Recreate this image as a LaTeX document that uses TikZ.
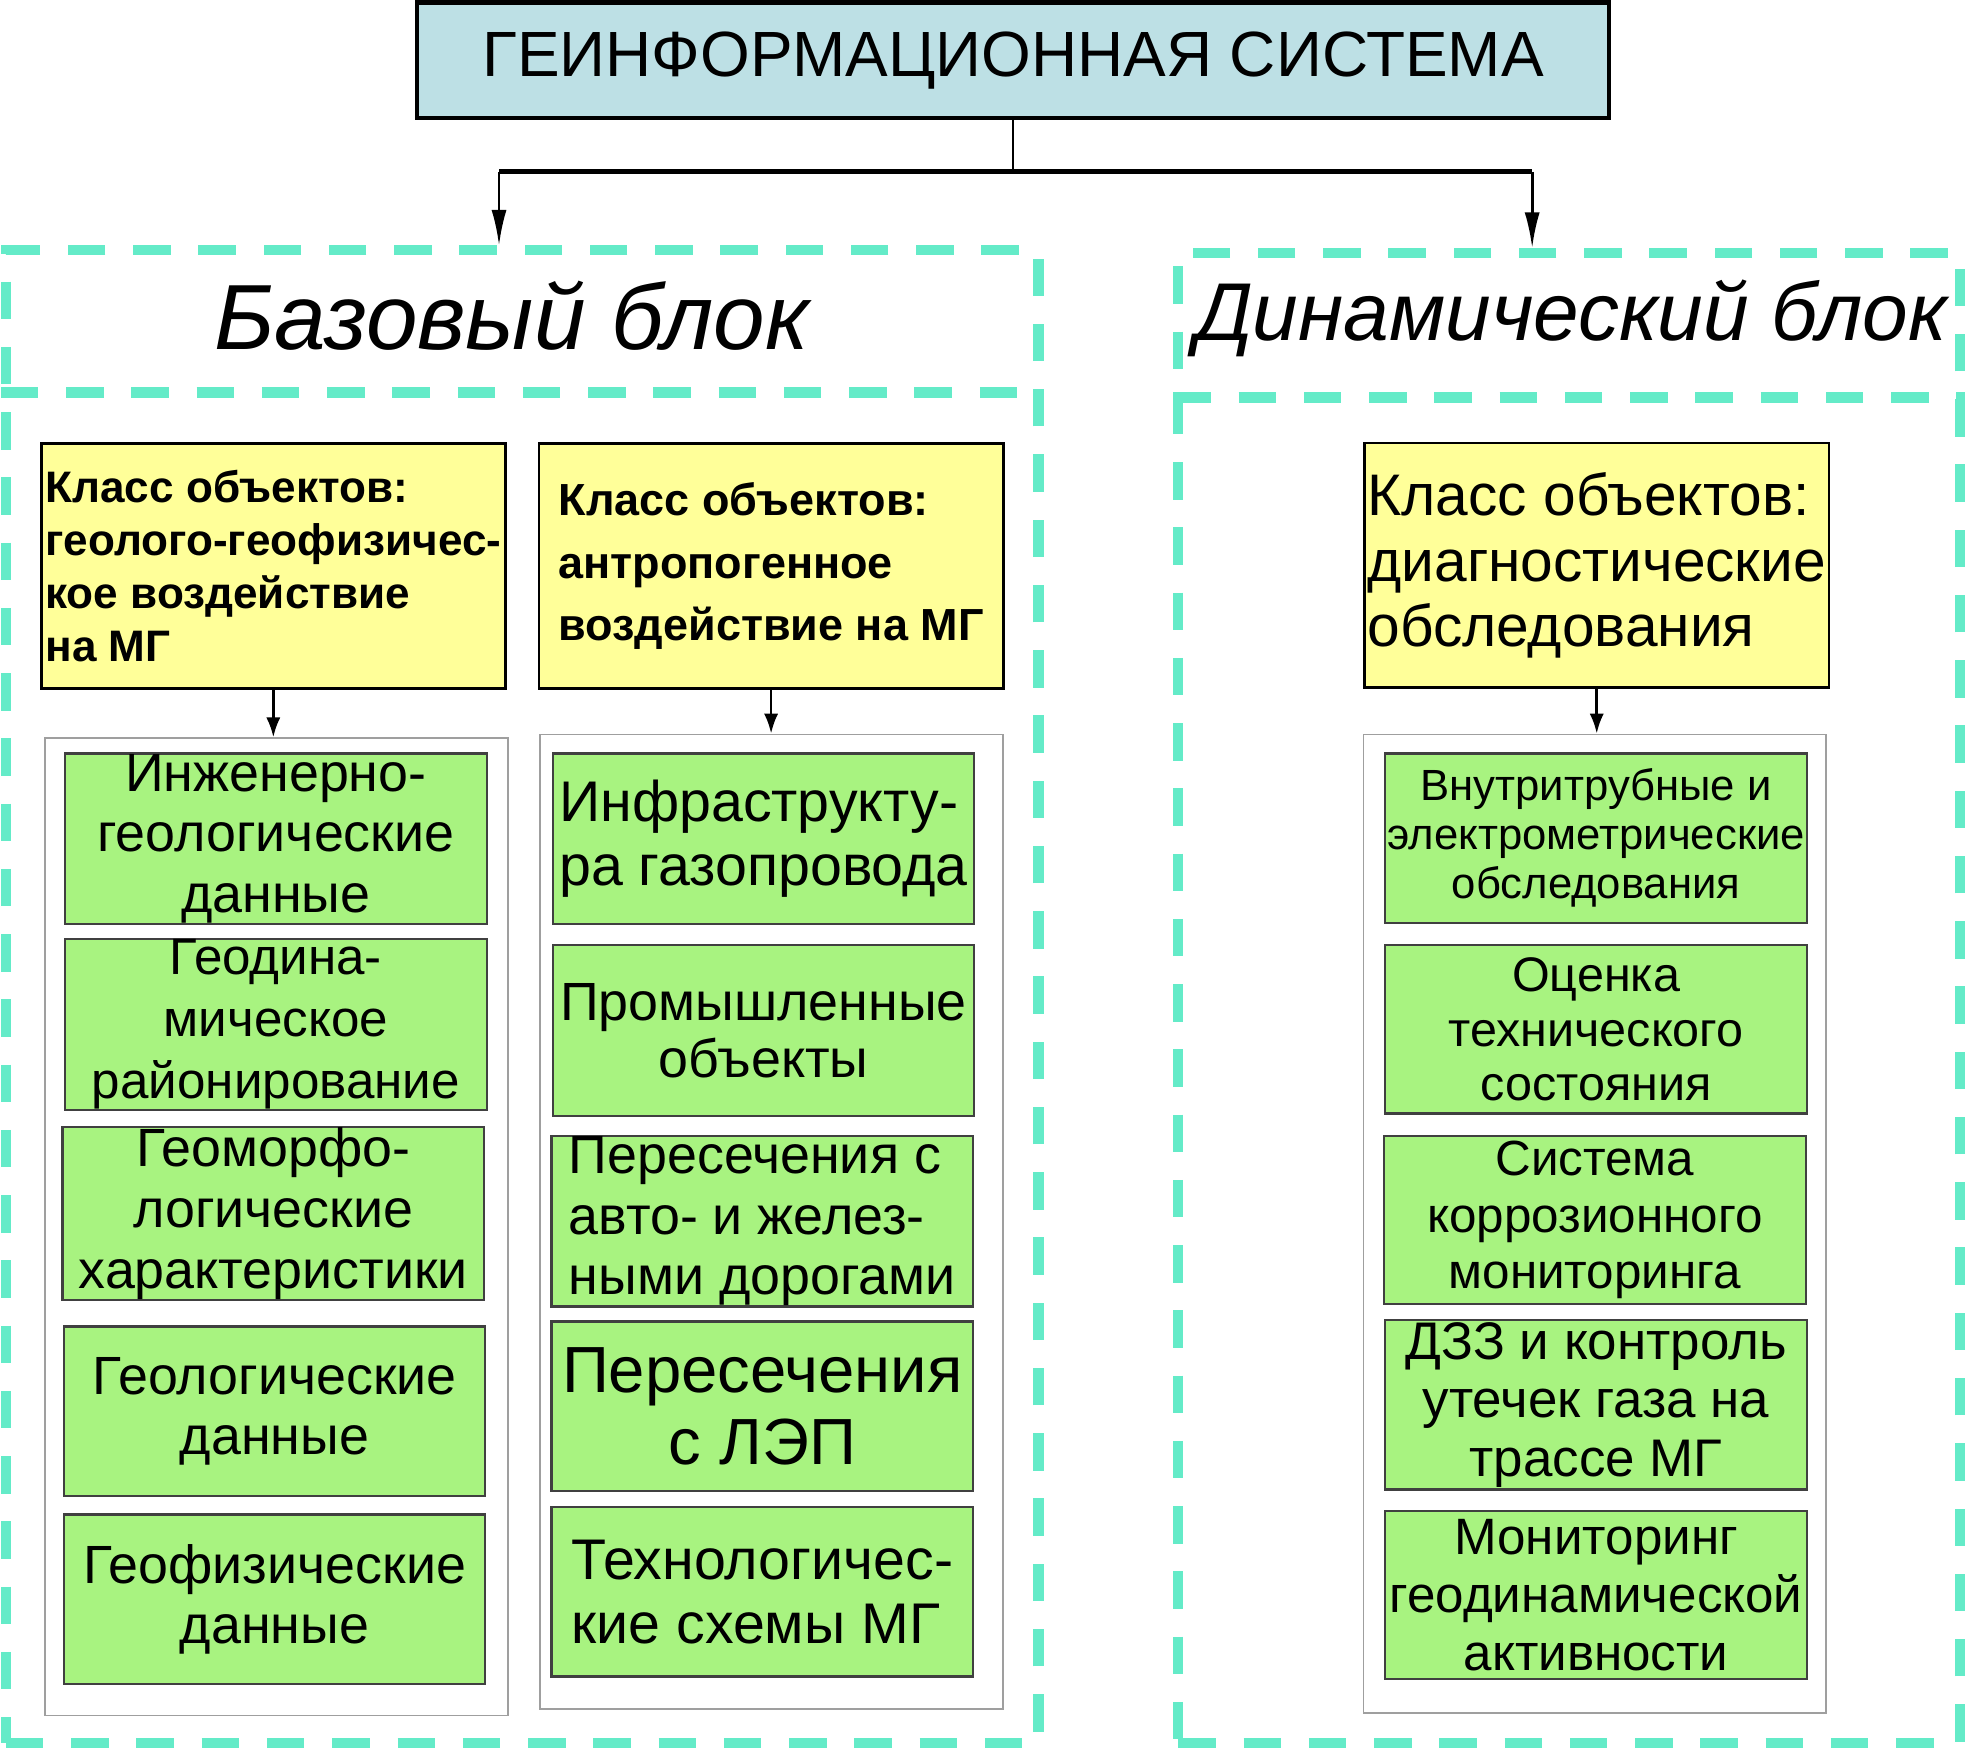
\documentclass[tikz,border=0pt]{standalone}
\usepackage{fontspec}
\setmainfont{Liberation Sans}
\usepackage{tikz}
\usetikzlibrary{arrows.meta}
\definecolor{gisblue}{RGB}{189,224,229}
\definecolor{clsyellow}{RGB}{255,255,153}
\definecolor{itemgreen}{RGB}{168,243,128}
\definecolor{frameaqua}{RGB}{100,235,200}
\newcommand{\boxfont}[2]{\fontsize{#1pt}{#2pt}\selectfont}

\begin{document}
\begin{tikzpicture}[x=0.01cm, y=-0.01cm,
    gistitle/.style={draw, line width=1pt, fill=gisblue, minimum width=9.5cm, minimum height=0.92cm, inner sep=0pt},
    blockframe/.style={draw=frameaqua, line width=2.3pt, dash pattern=on 8.5pt off 6.3pt, inner sep=0pt},
    clsbox/.style={draw, line width=0.6pt, fill=clsyellow, minimum width=3.7cm, minimum height=1.95cm, inner sep=0pt, align=left},
    itemlist/.style={draw=gray!75, line width=0.4pt, fill=white, minimum width=3.69cm, inner sep=0pt},
    itembox/.style={draw=gray!50!black, line width=0.5pt, fill=itemgreen, minimum width=3.36cm, minimum height=1.36cm, inner sep=0pt, align=center},
    linkarrow/.style={-{Latex[length=8pt,width=3.4pt]}, line width=0.6pt},
    subarrow/.style={-{Latex[length=4.5pt,width=3.2pt]}, line width=0.6pt}]
  \useasboundingbox (0,0) rectangle (1568,1394);

  % title
  \node [gistitle, font=\boxfont{14.5}{17}] (gis) at (808,48) {ГЕИНФОРМАЦИОННАЯ СИСТЕМА};

  \coordinate (jmid) at (808,137);
  \coordinate (jleft) at (398,137);
  \coordinate (jright) at (1222,137);

  % dashed blocks
  \node [blockframe, minimum width=8.23cm, minimum height=11.9cm] (baseframe) at (416.5,795) {};
  \node [blockframe, minimum width=6.23cm, minimum height=11.88cm] (dynframe) at (1251.5,796) {};
  \draw [blockframe] (baseframe.west |- 0,313) -- (baseframe.east |- 0,313);
  \draw [blockframe] (dynframe.west |- 0,317) -- (dynframe.east |- 0,317);
  \node [font=\boxfont{21}{25}\itshape] (basetitle) at (408,252) {Базовый блок};
  \node [font=\boxfont{18.6}{22}\itshape] (dyntitle) at (1253,254) {Динамический блок};

  \draw [line width=0.6pt] (gis.south) -- (jmid);
  \draw [line width=1.1pt] (jleft) -- (jright);
  \draw [linkarrow] (jleft) -- (jleft |- baseframe.north);
  \draw [linkarrow] (jright) -- (jright |- dynframe.north);

  % object classes
  \node [clsbox, font=\boxfont{10}{12}\bfseries] (geocls) at (218,451.5) {Класс объектов:\\геолого-геофизичес-\\кое воздействие\\на МГ};
  \node [clsbox, font=\boxfont{10.2}{14.2}\bfseries] (anthcls) at (615,451.5) {Класс объектов:\\антропогенное\\воздействие на МГ};
  \node [clsbox, font=\boxfont{13.3}{14.8}] (diagcls) at (1273.5,451) {Класс объектов:\\диагностические\\обследования};

  % lists
  \node [itemlist, minimum height=7.79cm] (geolist) at (220.5,978.5) {};
  \node [itemlist, minimum height=7.77cm] (anthlist) at (615.5,974.5) {};
  \node [itemlist, minimum height=7.8cm] (diaglist) at (1272,976) {};

  \draw [subarrow] (geocls.south) -- (geocls.south |- geolist.north);
  \draw [subarrow] (anthcls.south) -- (anthcls.south |- anthlist.north);
  \draw [subarrow] (diagcls.south) -- (diagcls.south |- diaglist.north);

  \node [itembox, font=\boxfont{12.2}{13.7}] (geo1) at (220,669) {Инженерно-\\геологические\\данные};
  \node [itembox, font=\boxfont{11.6}{14}] (geo2) at (220,817) {Геодина-\\мическое\\районирование};
  \node [itembox, font=\boxfont{12.2}{13.9}] (geo3) at (218,968) {Геоморфо-\\логические\\характеристики};
  \node [itembox, minimum height=1.35cm, font=\boxfont{12.2}{13.7}] (geo4) at (219,1125.5) {Геологические\\данные};
  \node [itembox, minimum height=1.35cm, font=\boxfont{12.2}{13.7}] (geo5) at (219,1275.5) {Геофизические\\данные};

  \node [itembox, align=left, font=\boxfont{13}{14.5}] (anth1) at (609,669) {Инфраструкту-\\ра газопровода};
  \node [itembox, font=\boxfont{12.2}{13.1}] (anth2) at (609,822) {Промышленные\\объекты};
  \node [itembox, align=left, font=\boxfont{12.2}{13.8}] (anth3) at (608,974) {Пересечения с\\авто- и желез-\\ными дорогами};
  \node [itembox, minimum height=1.35cm, font=\boxfont{14.8}{16.2}] (anth4) at (608,1121.5) {Пересечения\\с ЛЭП};
  \node [itembox, minimum height=1.35cm, align=left, font=\boxfont{13}{14.5}] (anth5) at (608,1269.5) {Технологичес-\\кие схемы МГ};

  \node [itembox, minimum height=1.35cm, font=\boxfont{9.9}{11.1}] (diag1) at (1273,668.5) {Внутритрубные и\\электрометрические\\обследования};
  \node [itembox, minimum height=1.34cm, font=\boxfont{11}{12.4}] (diag2) at (1273,821) {Оценка\\технического\\состояния};
  \node [itembox, minimum height=1.34cm, font=\boxfont{11.2}{12.8}] (diag3) at (1272,973) {Система\\коррозионного\\мониторинга};
  \node [itembox, minimum height=1.35cm, font=\boxfont{12}{13.2}] (diag4) at (1273,1120.5) {ДЗЗ и контроль\\утечек газа на\\трассе МГ};
  \node [itembox, minimum height=1.34cm, font=\boxfont{11.6}{13.2}] (diag5) at (1273,1272) {Мониторинг\\геодинамической\\активности};
\end{tikzpicture}
\end{document}
